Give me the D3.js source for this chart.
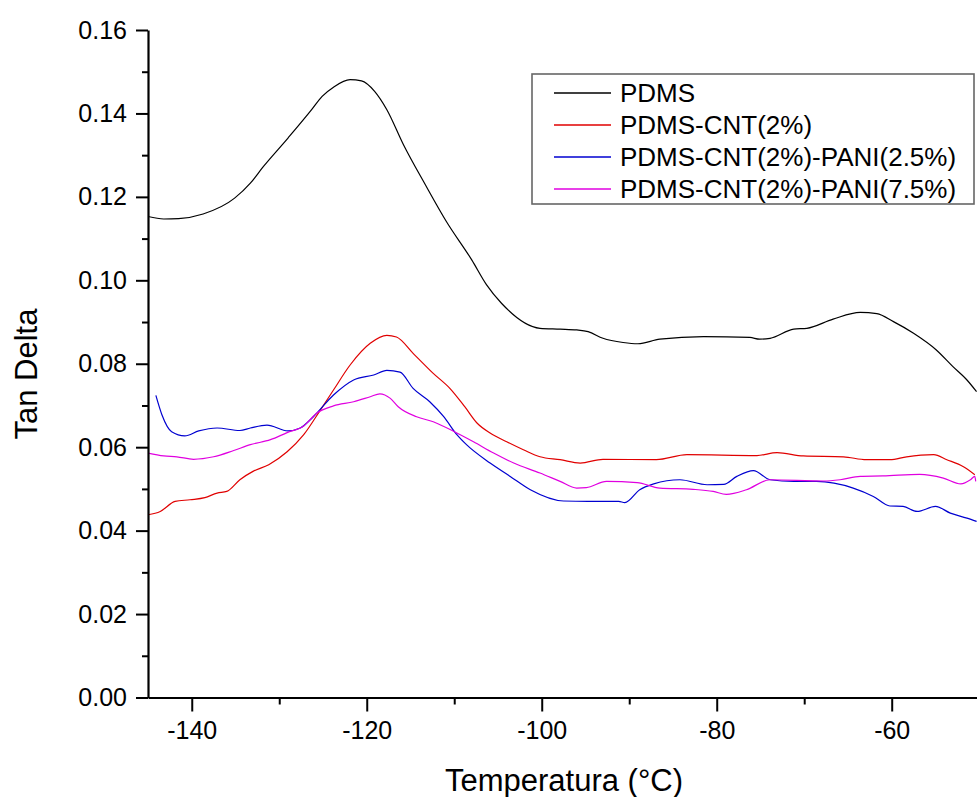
<!DOCTYPE html>
<html>
<head>
<meta charset="utf-8">
<script src="https://cdn.jsdelivr.net/npm/d3@7"></script>
<style>
  html, body { margin: 0; padding: 0; background: #fff; }
  svg { display: block; font-family: "Liberation Sans", Arial, sans-serif; }
</style>
</head>
<body>
<svg id="chart" width="977" height="797"></svg>
<script>
// Tan delta vs temperature for PDMS composites (DMA)
const seriesNames = ["PDMS", "PDMS-CNT(2%)", "PDMS-CNT(2%)-PANI(2.5%)", "PDMS-CNT(2%)-PANI(7.5%)"];
const seriesColors = ["#000000", "#e00000", "#0000d0", "#e000e0"];

const pdmsT = [-145.0, -143.2, -141.5, -138.7, -135.1, -133.3, -131.8, -129.0, -126.3, -125.1, -123.8, -121.9, -120.6, -119.1, -117.7, -115.8, -113.3, -110.9, -108.0, -106.3, -104.6, -100.2, -97.9, -96.0, -94.7, -93.0, -90.7, -89.0, -86.5, -81.5, -76.2, -75.1, -73.9, -71.2, -69.7, -66.7, -63.6, -61.7, -59.8, -57.5, -54.9, -53.0, -51.4, -50.3];
const pdmsV = [0.1153, 0.1147, 0.1148, 0.1159, 0.1197, 0.1233, 0.1273, 0.1341, 0.1409, 0.1441, 0.1463, 0.1481, 0.1478, 0.1453, 0.1409, 0.1325, 0.1229, 0.1141, 0.1049, 0.0989, 0.0945, 0.0885, 0.0883, 0.0881, 0.0877, 0.0861, 0.0851, 0.0848, 0.0859, 0.0865, 0.0863, 0.0859, 0.0861, 0.0883, 0.0885, 0.0907, 0.0923, 0.0920, 0.0901, 0.0873, 0.0833, 0.0793, 0.0761, 0.0733];

const cntT = [-145.0, -143.6, -141.9, -140.2, -138.5, -137.1, -136.0, -134.5, -133.0, -131.2, -129.1, -127.2, -125.3, -123.8, -121.9, -119.6, -117.7, -116.6, -114.7, -112.4, -110.5, -108.8, -107.4, -105.9, -104.0, -102.1, -100.2, -97.9, -95.6, -93.0, -86.9, -83.4, -75.4, -73.1, -70.1, -65.5, -62.9, -60.2, -58.3, -55.2, -53.7, -51.8, -50.5];
const cntV = [0.0438, 0.0446, 0.0470, 0.0474, 0.0479, 0.0490, 0.0494, 0.0522, 0.0542, 0.0558, 0.0589, 0.0630, 0.0689, 0.0737, 0.0797, 0.0849, 0.0868, 0.0864, 0.0825, 0.0777, 0.0741, 0.0697, 0.0658, 0.0634, 0.0613, 0.0594, 0.0577, 0.0570, 0.0562, 0.0571, 0.0570, 0.0582, 0.0580, 0.0587, 0.0579, 0.0577, 0.0570, 0.0570, 0.0577, 0.0582, 0.0570, 0.0553, 0.0534];

const pani25T = [-144.1, -143.4, -142.3, -140.8, -139.2, -137.1, -134.5, -133.3, -131.4, -129.0, -127.6, -126.1, -123.8, -121.5, -119.2, -117.7, -116.2, -114.7, -112.8, -111.2, -109.7, -108.6, -105.9, -103.6, -101.3, -97.5, -94.7, -91.2, -90.5, -88.8, -87.2, -84.2, -81.1, -79.2, -77.7, -75.8, -73.9, -71.2, -68.6, -64.4, -62.1, -60.2, -58.7, -57.1, -55.0, -53.3, -51.4, -50.3];
const pani25V = [0.0724, 0.0677, 0.0637, 0.0627, 0.0639, 0.0646, 0.0640, 0.0646, 0.0653, 0.0639, 0.0646, 0.0673, 0.0725, 0.0761, 0.0773, 0.0784, 0.0780, 0.0741, 0.0709, 0.0673, 0.0630, 0.0606, 0.0562, 0.0530, 0.0498, 0.0471, 0.0470, 0.0470, 0.0467, 0.0498, 0.0512, 0.0522, 0.0510, 0.0511, 0.0530, 0.0544, 0.0522, 0.0518, 0.0518, 0.0502, 0.0482, 0.0459, 0.0458, 0.0446, 0.0458, 0.0442, 0.0430, 0.0422];

const pani75T = [-145.0, -143.2, -141.7, -139.8, -137.5, -135.2, -133.3, -131.0, -129.1, -127.2, -125.7, -123.8, -121.5, -119.6, -118.5, -117.3, -116.4, -114.3, -112.4, -109.7, -107.8, -105.5, -103.2, -100.2, -97.9, -96.0, -94.9, -92.6, -89.1, -86.5, -82.7, -80.4, -78.9, -76.6, -73.9, -67.8, -65.9, -63.6, -61.0, -56.8, -54.1, -52.1, -51.0, -50.5, -50.4];
const pani75V = [0.0586, 0.0579, 0.0577, 0.0571, 0.0577, 0.0592, 0.0606, 0.0618, 0.0635, 0.0651, 0.0682, 0.0699, 0.0709, 0.0721, 0.0728, 0.0717, 0.0697, 0.0673, 0.0661, 0.0634, 0.0613, 0.0586, 0.0562, 0.0538, 0.0518, 0.0502, 0.0503, 0.0518, 0.0515, 0.0502, 0.0499, 0.0494, 0.0487, 0.0498, 0.0522, 0.0519, 0.0522, 0.0530, 0.0531, 0.0535, 0.0526, 0.0512, 0.0522, 0.0530, 0.0518];

const xMajorTicks = [-140, -120, -100, -80, -60];
const xMinorTicks = [-130, -110, -90, -70, -50];
const yMajorTicks = [0.00, 0.02, 0.04, 0.06, 0.08, 0.10, 0.12, 0.14, 0.16];
const yMinorTicks = [0.01, 0.03, 0.05, 0.07, 0.09, 0.11, 0.13, 0.15];

const xTitle = "Temperatura (°C)";
const yTitle = "Tan Delta";

const allSeries = [
  { name: seriesNames[0], color: seriesColors[0], t: pdmsT, v: pdmsV },
  { name: seriesNames[1], color: seriesColors[1], t: cntT, v: cntV },
  { name: seriesNames[2], color: seriesColors[2], t: pani25T, v: pani25V },
  { name: seriesNames[3], color: seriesColors[3], t: pani75T, v: pani75V }
];

const svg = d3.select("#chart");
const plotLeft = 148, plotTop = 30, plotBottom = 697.5, plotRight = 979.2;

const x = d3.scaleLinear().domain([-145, -50]).range([plotLeft, plotRight]);
const y = d3.scaleLinear().domain([0, 0.16]).range([plotBottom, plotTop]);

svg.append("defs").append("clipPath").attr("id", "plotClip")
  .append("rect").attr("x", plotLeft).attr("y", plotTop - 5)
  .attr("width", plotRight - plotLeft).attr("height", plotBottom - plotTop + 5);

// data lines
const line = d3.line().x(d => x(d[0])).y(d => y(d[1])).curve(d3.curveMonotoneX);
const plot = svg.append("g").attr("clip-path", "url(#plotClip)");
allSeries.forEach(s => {
  plot.append("path")
    .datum(s.t.map((t, i) => [t, s.v[i]]))
    .attr("fill", "none")
    .attr("stroke", s.color)
    .attr("stroke-width", 1.2)
    .attr("stroke-linejoin", "round")
    .attr("d", line);
});

// x axis: minor ticks, then major ticks with labels and the axis line
const xAxis = svg.append("g").attr("transform", `translate(0,${plotBottom})`);
xAxis.call(d3.axisBottom(x).tickValues(xMinorTicks).tickSize(7).tickFormat(""));
xAxis.call(g => g.select(".domain").remove());
const xAxisMajor = svg.append("g").attr("transform", `translate(0,${plotBottom})`)
  .call(d3.axisBottom(x).tickValues(xMajorTicks).tickSize(14).tickSizeOuter(0).tickPadding(10)
    .tickFormat(d => String(d)));
xAxisMajor.selectAll("text").attr("font-size", 25).attr("fill", "#000")
  .attr("font-family", "'Liberation Sans', Arial, sans-serif");
[xAxis, xAxisMajor].forEach(g => {
  g.selectAll("line").attr("stroke", "#000").attr("stroke-width", 2);
});
xAxisMajor.select(".domain").attr("stroke", "#000").attr("stroke-width", 2.2);

// y axis
const yAxis = svg.append("g").attr("transform", `translate(${plotLeft},0)`);
yAxis.call(d3.axisLeft(y).tickValues(yMinorTicks).tickSize(6).tickFormat(""));
yAxis.call(g => g.select(".domain").remove());
const yAxisMajor = svg.append("g").attr("transform", `translate(${plotLeft},0)`)
  .call(d3.axisLeft(y).tickValues(yMajorTicks).tickSize(12).tickSizeOuter(0).tickPadding(9)
    .tickFormat(d => d.toFixed(2)));
yAxisMajor.selectAll("text").attr("font-size", 25).attr("fill", "#000")
  .attr("font-family", "'Liberation Sans', Arial, sans-serif");
[yAxis, yAxisMajor].forEach(g => {
  g.selectAll("line").attr("stroke", "#000").attr("stroke-width", 2);
});
yAxisMajor.select(".domain").attr("stroke", "#000").attr("stroke-width", 2.2);

// axis titles
svg.append("text")
  .attr("x", 564).attr("y", 791)
  .attr("text-anchor", "middle")
  .attr("font-size", 31).attr("fill", "#000")
  .text(xTitle);
svg.append("text")
  .attr("transform", "translate(37,374) rotate(-90)")
  .attr("text-anchor", "middle")
  .attr("font-size", 31).attr("fill", "#000")
  .text(yTitle);

// legend
const legend = svg.append("g");
legend.append("rect")
  .attr("x", 532).attr("y", 74).attr("width", 442).attr("height", 130)
  .attr("fill", "#fff").attr("stroke", "#666").attr("stroke-width", 1.6);
allSeries.forEach((s, i) => {
  const ly = 93 + i * 32;
  legend.append("line")
    .attr("x1", 554).attr("x2", 611).attr("y1", ly).attr("y2", ly)
    .attr("stroke", s.color).attr("stroke-width", 1.3);
  legend.append("text")
    .attr("x", 620).attr("y", ly + 8.5)
    .attr("font-size", 26).attr("fill", "#000")
    .text(s.name);
});
</script>
</body>
</html>
